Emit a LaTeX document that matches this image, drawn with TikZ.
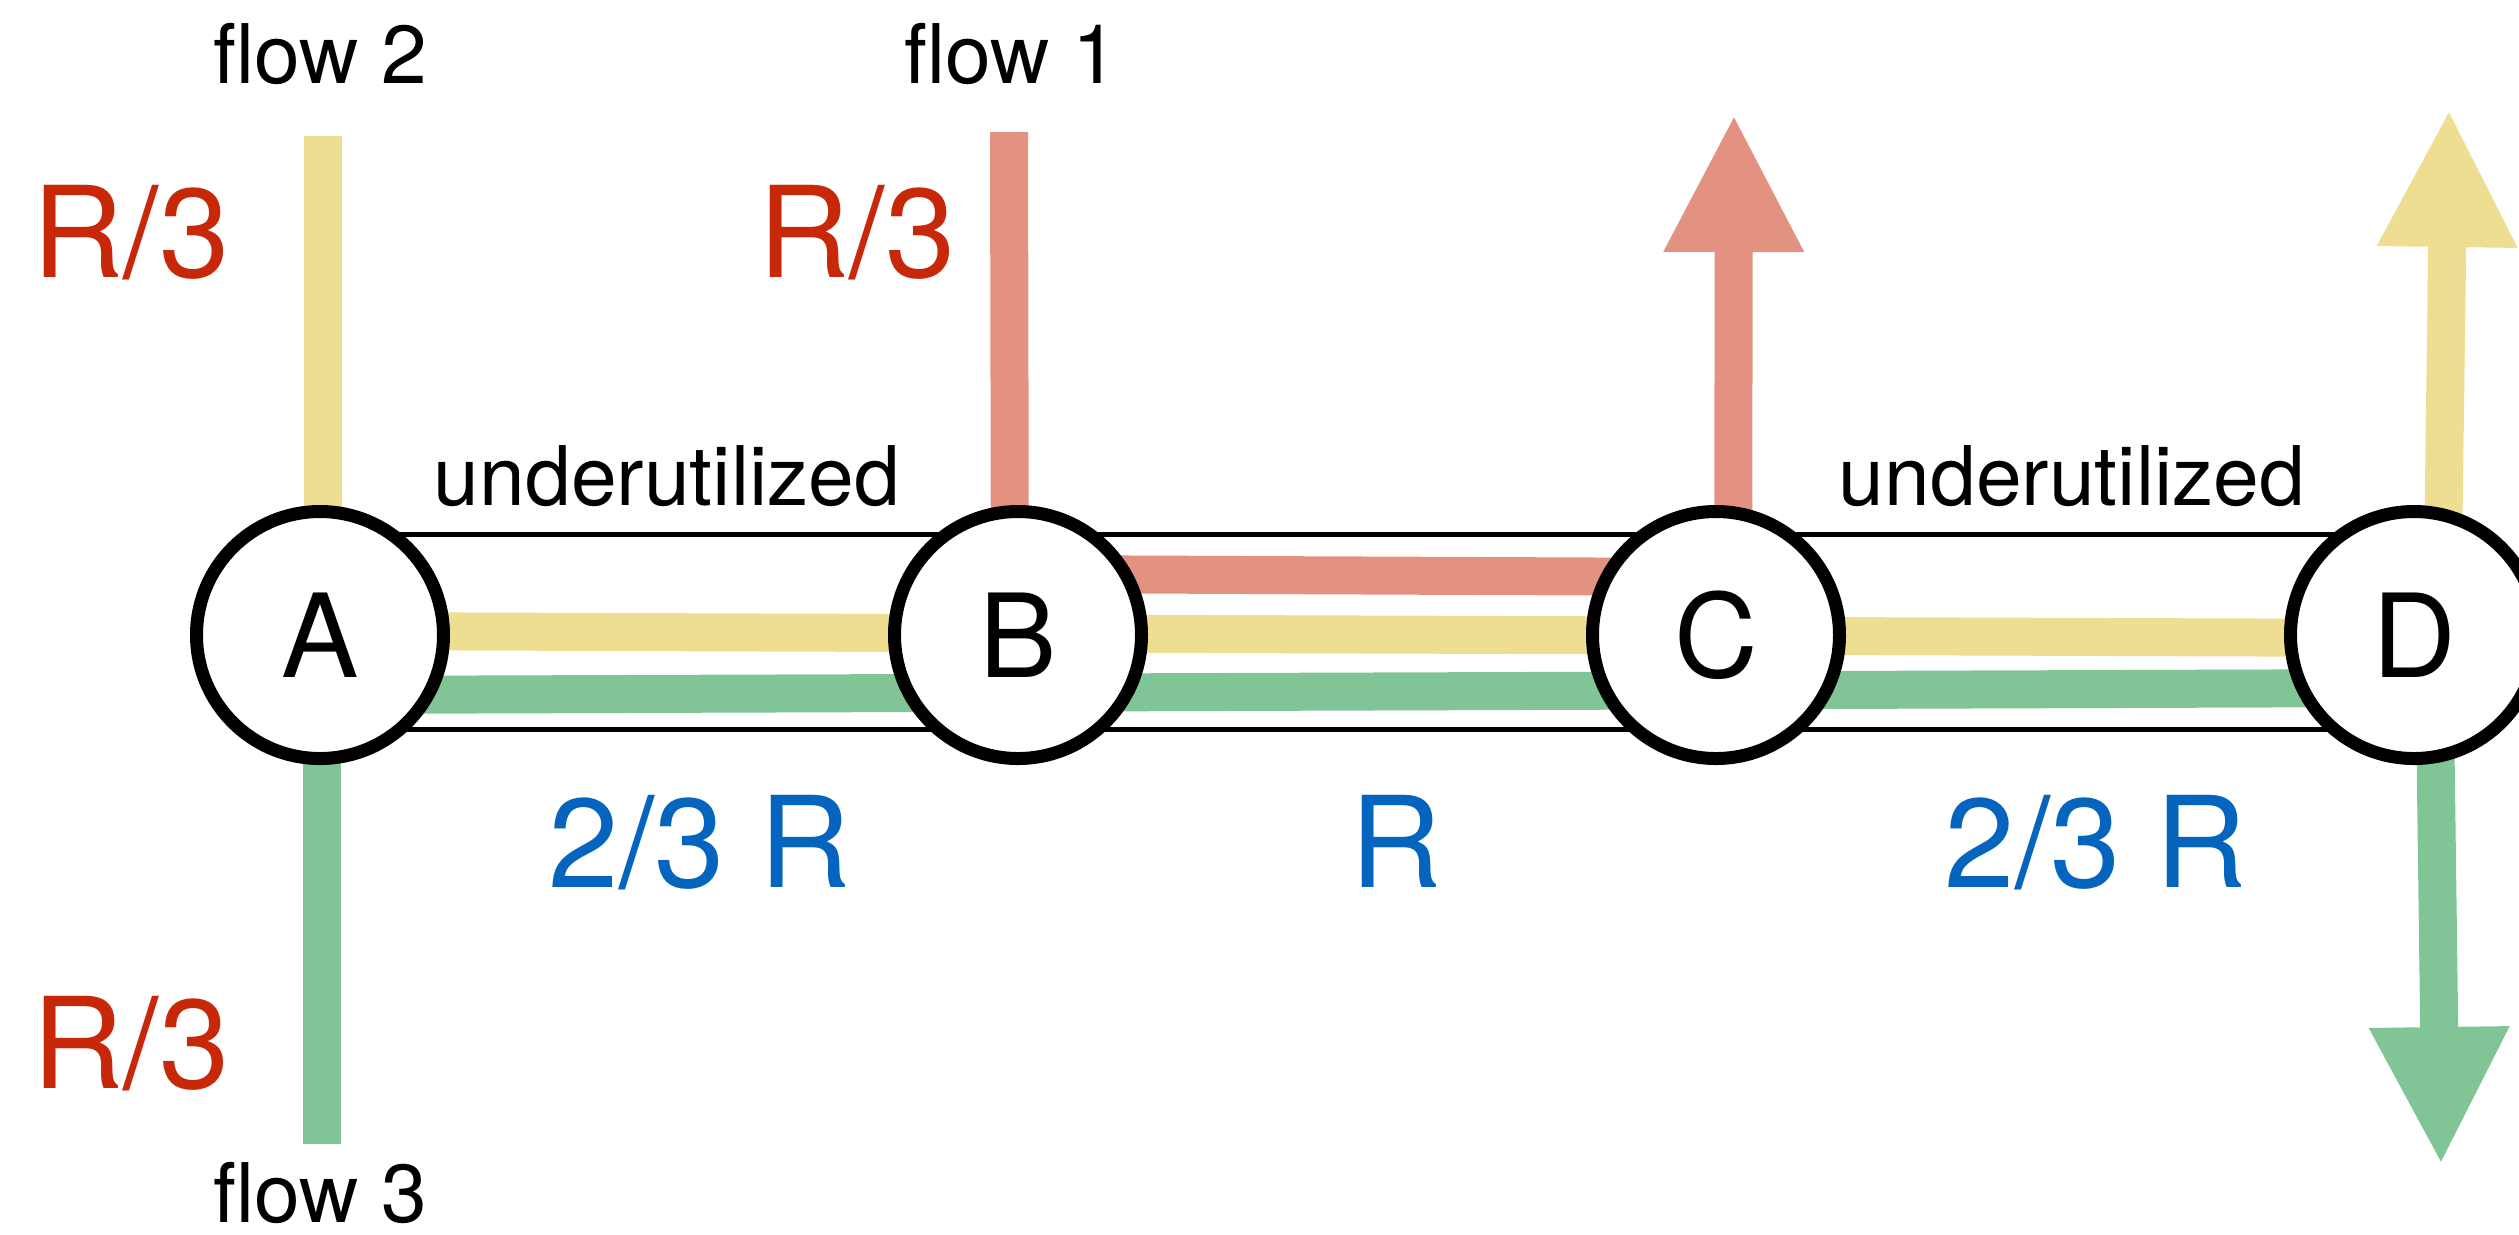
\documentclass[tikz,border=0pt]{standalone}
\usepackage{fontspec}
\setmainfont{TeX Gyre Heros}
\usetikzlibrary{arrows.meta, positioning, backgrounds}

\definecolor{flowred}{RGB}{227,146,130}
\definecolor{flowyellow}{RGB}{237,222,146}
\definecolor{flowgreen}{RGB}{129,197,150}
\definecolor{ratered}{RGB}{200,40,10}
\definecolor{capblue}{RGB}{5,100,190}

\begin{document}
\begin{tikzpicture}[
            node distance = 6.98cm, % centre to centre
            on grid,
            flow/.style = {line width = 0.38cm}, % thick coloured band
            bigtip/.style = {-{Triangle[width=1.30cm, length=1.38cm]}},
            link/.style = {line width = 0.05cm},
            tag/.style = {font = \fontsize{23.4}{28}\selectfont, anchor = base, inner sep = 1pt},
            share/.style = {font = \fontsize{36}{42}\selectfont, text = ratered, anchor = base},
            capacity/.style = {font = \fontsize{36}{42}\selectfont, text = capblue, anchor = base}
        ]

        \tikzstyle{router}=[
            circle,
            draw = black,
            line width = 0.13cm,
            fill = white,
            minimum size = 2.47cm,
            font = \fontsize{33}{40}\selectfont
        ]

        \useasboundingbox (0, 0) rectangle (25.19, -12.34);

        \node[router] (A) at (3.20, -6.35) {A};
        \node[router] (B) [right=of A] {B};
        \node[router] (C) [right=of B] {C};
        \node[router] (D) [right=of C] {D};

        % loose ends of the flows
        \coordinate (in1) at (10.09, -1.32);
        \coordinate (in2) at (3.23, -1.36);
        \coordinate (in3) at (3.22, -11.44);
        \coordinate (out1) at (17.34, -1.14);
        \coordinate (out2) at (24.49, -1.09);
        \coordinate (out3) at (24.41, -11.65);

        \begin{scope}[on background layer]
            % links
            \foreach \u/\v in {A/B, B/C, C/D} {
                \draw[link] ([yshift=1.01cm]\u.center) -- ([yshift=1.01cm]\v.center);
                \draw[link] ([yshift=-0.945cm]\u.center) -- ([yshift=-0.945cm]\v.center);
            }

            % flow 1
            \draw[flow, flowred] (in1) -- ([xshift=-0.08cm]B.center);
            \draw[flow, flowred] ([yshift=0.61cm]B.center) -- ([yshift=0.58cm]C.center);
            \draw[flow, flowred, bigtip] ([xshift=0.17cm]C.center) -- (out1);

            % flow 2
            \draw[flow, flowyellow] (in2) -- ([xshift=0.03cm]A.center);
            \draw[flow, flowyellow] ([yshift=0.04cm]A.center) -- ([yshift=-0.03cm]D.center);
            \draw[flow, flowyellow, bigtip] ([xshift=0.28cm]D.center) -- (out2);

            % flow 3
            \draw[flow, flowgreen] (in3) -- ([xshift=0.02cm]A.center);
            \draw[flow, flowgreen] ([yshift=-0.60cm]A.center) -- ([yshift=-0.53cm]D.center);
            \draw[flow, flowgreen, bigtip] ([xshift=0.20cm]D.center) -- (out3);
        \end{scope}

        \node[tag] (f2) at (3.20, -0.83) {flow 2};
        \node[tag] (f1) at (10.11, -0.83) {flow 1};
        \node[tag] (f3) at (3.20, -12.22) {flow 3};
        \node[tag] (u1) at (6.67, -5.05) {underutilized};
        \node[tag] (u2) at (20.72, -5.05) {underutilized};

        \node[share] (s2) at (1.31, -2.77) {R/3};
        \node[share] (s1) at (8.57, -2.77) {R/3};
        \node[share] (s3) at (1.31, -10.88) {R/3};

        \node[capacity] (c1) at (7.00, -8.87) {2/3 R};
        \node[capacity] (c2) at (13.96, -8.87) {R};
        \node[capacity] (c3) at (20.96, -8.87) {2/3 R};
    \end{tikzpicture}
\end{document}
